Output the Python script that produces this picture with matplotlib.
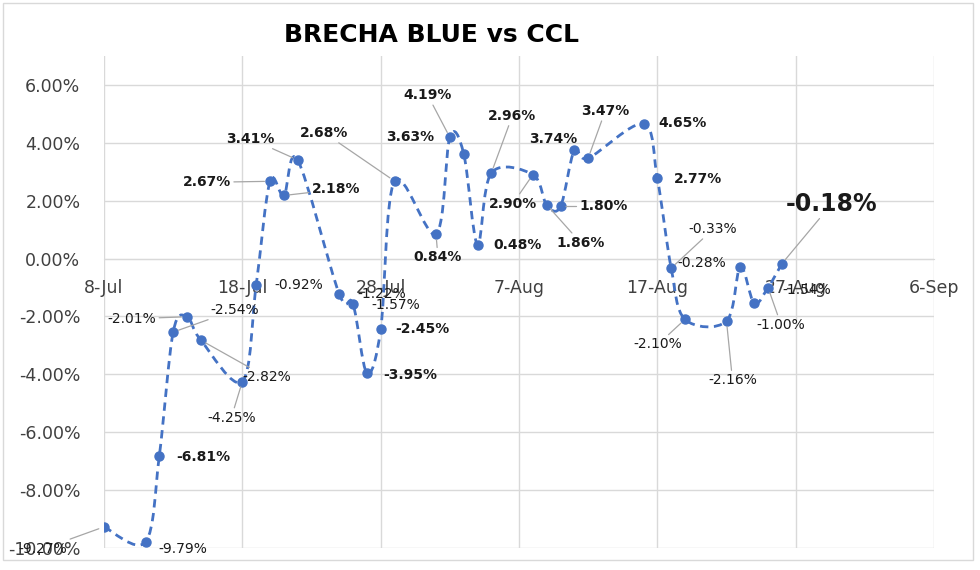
import matplotlib
matplotlib.use("Agg")
import matplotlib.pyplot as plt
import matplotlib.dates as mdates
from matplotlib.path import Path
from matplotlib.patches import PathPatch, Rectangle
import numpy as np
import pandas as pd

# data (blue vs CCL gap, %)
dates = ["2022-07-08", "2022-07-11", "2022-07-12", "2022-07-13", "2022-07-14",
         "2022-07-15", "2022-07-18", "2022-07-19", "2022-07-20", "2022-07-21",
         "2022-07-22", "2022-07-25", "2022-07-26", "2022-07-27", "2022-07-28",
         "2022-07-29", "2022-08-01", "2022-08-02", "2022-08-03", "2022-08-04",
         "2022-08-05", "2022-08-08", "2022-08-09", "2022-08-10", "2022-08-11",
         "2022-08-12", "2022-08-16", "2022-08-17", "2022-08-18", "2022-08-19",
         "2022-08-22", "2022-08-23", "2022-08-24", "2022-08-25", "2022-08-26"]
values = [-9.27, -9.79, -6.81, -2.54, -2.01,
          -2.82, -4.25, -0.92, 2.67, 2.18,
          3.41, -1.22, -1.57, -3.95, -2.45,
          2.68, 0.84, 4.19, 3.63, 0.48,
          2.96, 2.90, 1.86, 1.80, 3.74,
          3.47, 4.65, 2.77, -0.33, -2.10,
          -2.16, -0.28, -1.54, -1.00, -0.18]
x_ticks = pd.date_range("2022-07-08", "2022-09-06", freq="10D")
y_ticks = [-10, -8, -6, -4, -2, 0, 2, 4, 6]
title = "BRECHA BLUE vs CCL"

# where each data label sits (pixels from its point) and whether a leader line is drawn
label_offsets = [(-61, -22), (37, -7), (44, -1), (62, 22), (-55, -2),
                 (66, -37), (-11, -36), (43, 0), (-63, -1), (52, 6),
                 (-47, 21), (43, 0), (43, -1), (43, -2), (42, 0),
                 (-70, 48), (2, -23), (-22, 42), (-53, 17), (40, 0),
                 (21, 57), (-20, -29), (34, -38), (43, 0), (-21, 11),
                 (17, 47), (39, 1), (41, -1), (42, 39), (-27, -25),
                 (6, -59), (-39, 4), (53, 13), (13, -37), (50, 60)]
leader = [1, 0, 0, 1, 1, 1, 1, 0, 1, 1, 1, 0, 0, 0, 0, 1, 1, 1, 0, 0,
          1, 1, 1, 1, 0, 1, 0, 0, 1, 1, 1, 0, 0, 1, 1]

BLUE = "#4472C4"
GRID = "#D9D9D9"
LEADER = "#A6A6A6"
TXT = "#404040"


def smooth_path(x, y):
    # Excel-like smoothed line: cubic bezier through every point
    pts = np.column_stack([x, y])
    n = len(pts)
    verts = [pts[0]]
    codes = [Path.MOVETO]
    for i in range(n - 1):
        p0 = pts[max(i - 1, 0)]
        p1 = pts[i]
        p2 = pts[i + 1]
        p3 = pts[min(i + 2, n - 1)]
        verts += [p1 + (p2 - p0) / 6, p2 - (p3 - p1) / 6, p2]
        codes += [Path.CURVE4] * 3
    return Path(verts, codes)


x = mdates.date2num(pd.to_datetime(dates))

fig = plt.figure(figsize=(9.8, 5.7), dpi=100)
ax = fig.add_axes([104 / 980, 22 / 570, 830 / 980, 492 / 570])

line = PathPatch(smooth_path(x, values), fill=False, edgecolor=BLUE, lw=2.0,
                 linestyle=(0, (3, 2)), zorder=3)
ax.add_patch(line)
ax.plot(x, values, "o", color=BLUE, ms=6.5, zorder=4)

for i, (xi, v) in enumerate(zip(x, values)):
    txt = f"{v:.2f}%"
    last = i == len(values) - 1
    weight = "bold" if (v > 0 or v in (-6.81, -3.95, -2.45) or last) else "normal"
    props = None
    if leader[i]:
        props = dict(arrowstyle="-", color=LEADER, lw=0.9, shrinkA=0, shrinkB=4)
    ax.annotate(txt, xy=(xi, v), xytext=label_offsets[i], textcoords="offset pixels",
                ha="center", va="center", fontsize=17 if last else 10,
                fontweight=weight, color="#1a1a1a", arrowprops=props, zorder=5)

ax.set_xlim(mdates.date2num(x_ticks[0]), mdates.date2num(x_ticks[-1]))
ax.set_ylim(-10, 7)
ax.set_xticks(mdates.date2num(x_ticks))
ax.set_xticklabels([f"{d.day}-{d.strftime('%b')}" for d in x_ticks])
ax.set_yticks(y_ticks)
ax.set_yticklabels([f"{t:.2f}%" for t in y_ticks])

ax.grid(True, color=GRID, lw=1)
ax.set_axisbelow(True)
for s in ["top", "right", "left"]:
    ax.spines[s].set_visible(False)
ax.spines["bottom"].set_position(("data", 0))
ax.spines["bottom"].set_color(GRID)
ax.tick_params(axis="x", length=0, pad=15, labelsize=12.5, labelcolor=TXT)
ax.tick_params(axis="y", length=0, pad=17, labelsize=12.5, labelcolor=TXT)

fig.text(431 / 980, 1 - 35 / 570, title, ha="center", va="center",
         fontsize=18, fontweight="bold", color="black")
fig.add_artist(Rectangle((3 / 980, 10 / 570), 970 / 980, 557 / 570,
                         transform=fig.transFigure, fill=False,
                         edgecolor=GRID, lw=1))

fig.savefig("out.png", dpi=100)
